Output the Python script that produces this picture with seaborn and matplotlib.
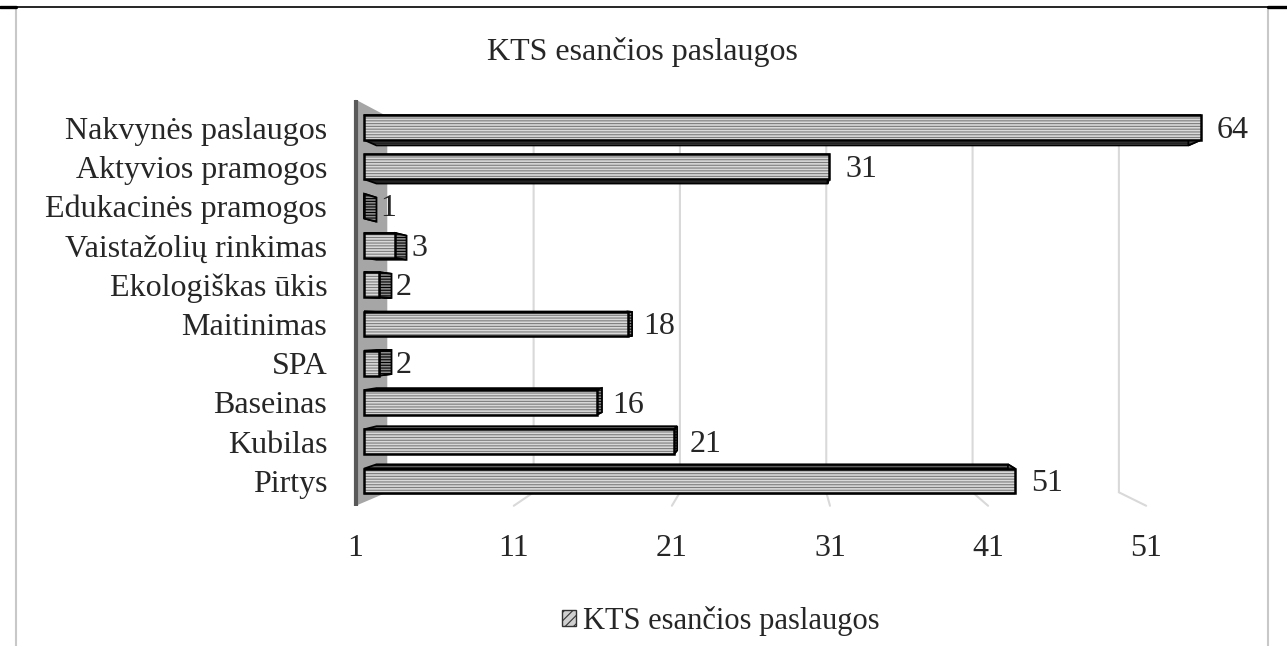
import numpy as np
import pandas as pd
import matplotlib
matplotlib.use("Agg")
import matplotlib.pyplot as plt
import seaborn as sns
from matplotlib.patches import Polygon, Rectangle, Patch
from matplotlib.lines import Line2D

categories = ["Nakvynės paslaugos", "Aktyvios pramogos", "Edukacinės pramogos",
              "Vaistažolių rinkimas", "Ekologiškas ūkis", "Maitinimas", "SPA",
              "Baseinas", "Kubilas", "Pirtys"]
# length of the drawn bars and the printed data labels
bar_value = [55, 31, 1, 3, 2, 18, 2, 16, 21, 43]
label_value = [64, 31, 1, 3, 2, 18, 2, 16, 21, 51]
tick_values = [1, 11, 21, 31, 41, 51]

sns.set_style("white")
plt.rcParams['font.family'] = ['Liberation Serif', 'DejaVu Serif']
plt.rcParams['hatch.linewidth'] = 0.8

W, H = 1287, 646
fig = plt.figure(figsize=(W / 100, H / 100), dpi=100)
ax = fig.add_axes([330 / W, 1 - 506 / H, (1280 - 330) / W, (506 - 80) / H])

df = pd.DataFrame({"kategorija": categories, "reiksme": bar_value})
sns.barplot(data=df, x="reiksme", y="kategorija", orient="h", width=0.63,
            color="#d9d9d9", saturation=1, edgecolor="#7c7c7c", hatch="------",
            linewidth=0, ax=ax, zorder=5)

# bars start at the axis minimum (1), like in Excel
for p, v in zip(ax.patches, bar_value):
    p.set_x(1)
    p.set_width(v - 1)

ax.set_xlim(1 - 34 / 15.5, 1 + 916 / 15.5)
ax.set_ylim((506 - 127.5) / 39.28, (80 - 127.5) / 39.28)

# simple perspective: shrink towards a vanishing point
vp_v, vp_r = 27.84, 5.03
depth_bar, s_back, s_front = 0.03, 0.056, -0.02
y_top, y_bot = -0.598, 9.54


def proj(v, r, s):
    return (vp_v + (v - vp_v) * (1 - s), vp_r + (r - vp_r) * (1 - s))


# back wall gridlines + floor
for t in tick_values[1:]:
    pts = [proj(t, y_top, s_back), proj(t, y_bot, s_back), proj(t, y_bot, s_front)]
    ax.plot([p[0] for p in pts], [p[1] for p in pts], color="#d9d9d9", lw=1.5,
            zorder=1, clip_on=False, solid_joinstyle="miter")

# side wall
wall = [proj(1, y_top, s_front), proj(1, y_top, s_back), proj(1, y_bot, s_back), proj(1, y_bot, s_front)]
ax.add_patch(Polygon(wall, closed=True, fc="#a6a6a6", ec="none", zorder=2))
ax.plot([wall[0][0], wall[3][0]], [wall[0][1], wall[3][1]], color="#595959", lw=3,
        zorder=2, solid_capstyle="butt")

# bar sides
hh = 0.315
for i, v in enumerate(bar_value):
    r0, r1 = i - hh, i + hh
    end = [proj(v, r0, 0), proj(v, r1, 0), proj(v, r1, depth_bar), proj(v, r0, depth_bar)]
    top = [proj(1, r0, 0), proj(v, r0, 0), proj(v, r0, depth_bar), proj(1, r0, depth_bar)]
    bot = [proj(1, r1, 0), proj(v, r1, 0), proj(v, r1, depth_bar), proj(1, r1, depth_bar)]
    for face, fc in [(top, "#5e5e5e"), (bot, "#5e5e5e"), (end, "#8a8a8a")]:
        ax.add_patch(Polygon(face, closed=True, fc=fc, ec="black", lw=1.3,
                             hatch="------", zorder=3, joinstyle="miter"))
    ax.add_patch(Rectangle((1, r0), v - 1, 2 * hh, fill=False, ec="black", lw=1.8,
                           zorder=6, joinstyle="miter"))
    ax.annotate(str(label_value[i]), xy=(v, i), xytext=(11.5, -2),
                textcoords="offset points", ha="left", va="center", fontsize=23, zorder=7)

ax.set_xticks([proj(t, 0, s_front)[0] for t in tick_values], labels=[str(t) for t in tick_values])
ax.tick_params(axis="x", length=0, pad=20, labelsize=23)
ax.tick_params(axis="y", length=0, pad=2, labelsize=23)
ax.set_xlabel("")
ax.set_ylabel("")
for sp in ax.spines.values():
    sp.set_visible(False)

fig.text(642 / W, 1 - 52 / H, "KTS esančios paslaugos", ha="center", va="center", fontsize=23)

handle = Patch(facecolor="#d0d0d0", edgecolor="#333333", hatch="////", label="KTS esančios paslaugos")
fig.legend(handles=[handle], loc="center left", bbox_to_anchor=(562 / W, 1 - 621 / H),
           frameon=False, fontsize=22, handlelength=0.45, handleheight=0.45,
           handletextpad=0.25, borderpad=0, borderaxespad=0)

# chart-area frame (gray) and top rule of the page
fig.add_artist(Line2D([16 / W, 16 / W], [0, 1 - 7 / H], color="#c8c8c8", lw=1.5))
fig.add_artist(Line2D([1268 / W, 1268 / W], [0, 1 - 7 / H], color="#c8c8c8", lw=1.5))
fig.add_artist(Line2D([0, 1], [1 - 6.5 / H, 1 - 6.5 / H], color="black", lw=1.2))
fig.add_artist(Line2D([0, 16 / W], [1 - 6.5 / H, 1 - 6.5 / H], color="black", lw=2.4))
fig.add_artist(Line2D([1268 / W, 1], [1 - 6.5 / H, 1 - 6.5 / H], color="black", lw=2.4))

fig.savefig("out.png", dpi=100)
